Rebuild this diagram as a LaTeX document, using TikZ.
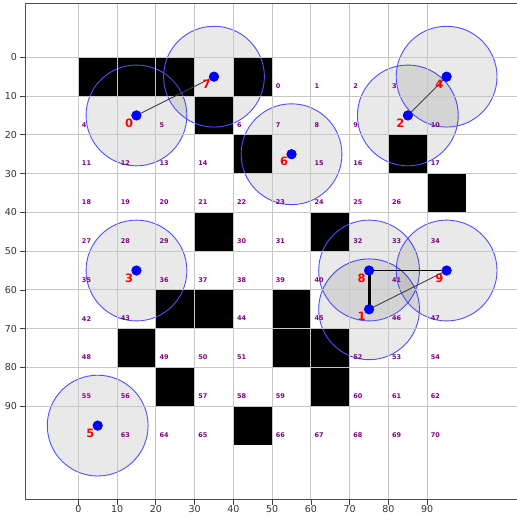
\documentclass[tikz,border=0pt]{standalone}
\usepackage{fontspec}
\setmainfont{DejaVu Sans}
\usetikzlibrary{calc}
\definecolor{mplpurple}{HTML}{800080}
\definecolor{ringblue}{HTML}{4F4FFF}
\tikzset{
  gridline/.style={draw=black!22, line width=0.9pt},
  spine/.style={draw=black!70, line width=0.9pt},
  tickmark/.style={draw=black!75, line width=0.8pt},
  ticklabel/.style={font=\fontsize{9.5}{10}\selectfont, text=black!80, inner sep=0pt},
  obstacle/.style={fill=black},
  ring/.style={draw=ringblue, line width=0.9pt, fill=black, fill opacity=0.087},
  dotnode/.style={circle, fill=blue, inner sep=0pt, minimum size=10pt},
  idlabel/.style={font=\fontsize{11.5}{12}\selectfont\bfseries, text=red, inner sep=0pt},
  celllabel/.style={font=\fontsize{6.5}{7}\selectfont\bfseries, text=mplpurple, inner sep=0pt, anchor=west},
  edgeline/.style={draw=black!75, line width=0.9pt},
}
\begin{document}
\begin{tikzpicture}
\useasboundingbox[fill=white] (0,0) rectangle (517pt,516pt);
\begin{scope}[shift={(78.3pt,458.7pt)}, x=3.877pt, y=-3.877pt]
  % obstacles
  \foreach \c/\r in {0/0,1/0,2/0,4/0,3/1,4/2,8/2,9/3,3/4,6/4,2/6,3/6,5/6,1/7,5/7,6/7,2/8,6/8,4/9}
    \fill[obstacle] (10*\c,10*\r) rectangle ++(10,10);
  % coordinates of the points
  \coordinate (p0) at (15,15);
  \coordinate (p1) at (75,65);
  \coordinate (p2) at (85,15);
  \coordinate (p3) at (15,55);
  \coordinate (p4) at (95,5);
  \coordinate (p5) at (5,95);
  \coordinate (p6) at (55,25);
  \coordinate (p7) at (35,5);
  \coordinate (p8) at (75,55);
  \coordinate (p9) at (95,55);
  % circles
  \foreach \i in {0,...,9}
    \draw[ring] (p\i) circle[radius=13];
  % grid
  \foreach \v in {0,10,...,90} {
    \draw[gridline] (\v,-13.8) -- (\v,114);
    \draw[gridline] (-13.75,\v) -- (114,\v);
  }
  % spines
  \draw[spine] (114,-13.8) -- (-13.75,-13.8) -- (-13.75,114) -- (114,114);
  % ticks and tick labels
  \foreach \v in {0,10,...,90} {
    \draw[tickmark] (-13.75,\v) -- ++(-1.4,0);
    \node[ticklabel, anchor=east] (ty\v) at (-15.8,\v) {\v};
    \draw[tickmark] (\v,114) -- ++(0,1.4);
    \node[ticklabel, anchor=north] (tx\v) at (\v,115.5) {\v};
  }
  % point nodes
  \node[dotnode] (n0) at (p0) {};
  \node[dotnode] (n1) at (p1) {};
  \node[dotnode] (n2) at (p2) {};
  \node[dotnode] (n3) at (p3) {};
  \node[dotnode] (n4) at (p4) {};
  \node[dotnode] (n5) at (p5) {};
  \node[dotnode] (n6) at (p6) {};
  \node[dotnode] (n7) at (p7) {};
  \node[dotnode] (n8) at (p8) {};
  \node[dotnode] (n9) at (p9) {};
  % connectors
  \draw[edgeline] (n0.center) -- (n7.center);
  \draw[edgeline] (n2.center) -- (n4.center);
  \draw[edgeline] (n1.center) -- (n9.center);
  \draw[edgeline, draw=black, line width=1.1pt] (n8.center) -- (n9.center);
  \draw[draw=black, line width=3pt] (n8.center) -- (n1.center);
  % redraw dots above the lines
  \foreach \i in {0,...,9}
    \fill[blue] (n\i.center) circle[radius=5pt];
  % id labels
  \foreach \i in {0,...,9}
    \node[idlabel] (id\i) at ($(p\i)+(-1.9,1.9)$) {\i};
  % cell labels
  \foreach \c/\r/\l in {5/0/0,6/0/1,7/0/2,8/0/3,
    0/1/4,2/1/5,4/1/6,5/1/7,6/1/8,7/1/9,9/1/10,
    0/2/11,1/2/12,2/2/13,3/2/14,6/2/15,7/2/16,9/2/17,
    0/3/18,1/3/19,2/3/20,3/3/21,4/3/22,5/3/23,6/3/24,7/3/25,8/3/26,
    0/4/27,1/4/28,2/4/29,4/4/30,5/4/31,7/4/32,8/4/33,9/4/34,
    0/5/35,2/5/36,3/5/37,4/5/38,5/5/39,6/5/40,8/5/41,
    0/6/42,1/6/43,4/6/44,6/6/45,8/6/46,9/6/47,
    0/7/48,2/7/49,3/7/50,4/7/51,7/7/52,8/7/53,9/7/54,
    0/8/55,1/8/56,3/8/57,4/8/58,5/8/59,7/8/60,8/8/61,9/8/62,
    1/9/63,2/9/64,3/9/65,5/9/66,6/9/67,7/9/68,8/9/69,9/9/70}
    \node[celllabel] (c\l) at (10*\c+0.9,10*\r+7.4) {\l};
\end{scope}
\end{tikzpicture}
\end{document}
